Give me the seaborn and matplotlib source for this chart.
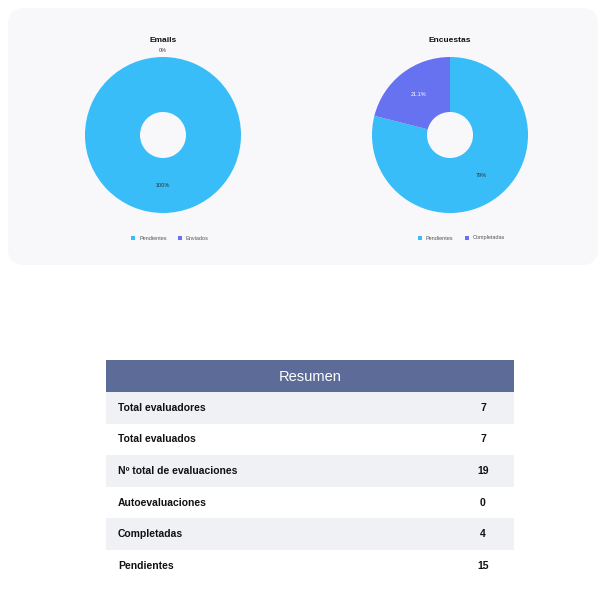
import matplotlib
matplotlib.use("Agg")
import matplotlib.pyplot as plt
import seaborn as sns
from matplotlib.patches import FancyBboxPatch, Rectangle

sns.set_theme(style="white")
plt.rcParams['font.family'] = ['Liberation Sans', 'DejaVu Sans']

email_labels = ["Pendientes", "Enviados"]
email_values = [7, 0]
enc_labels = ["Pendientes", "Completadas"]
enc_values = [15, 4]
colors = ["#38bdf8", "#6772f0"]

table_title = "Resumen"
row_labels = ["Total evaluadores", "Total evaluados", "Nº total de evaluaciones",
              "Autoevaluaciones", "Completadas", "Pendientes"]
row_values = [7, 7, 19, 0, 4, 15]

W, H = 609, 601
fig = plt.figure(figsize=(W/100, H/100), dpi=100)
fig.patch.set_facecolor("white")

def px_axes(x, y, w, h):
    return fig.add_axes([x/W, 1-(y+h)/H, w/W, h/H])

bg = px_axes(0, 0, W, H)
bg.set_xlim(0, W); bg.set_ylim(H, 0); bg.axis("off")
bg.add_patch(FancyBboxPatch((8, 8), 590, 257, boxstyle="round,pad=0,rounding_size=16",
                            fc="#f8f8fb", ec="none"))

def donut(cx, title, labels, values):
    r = 78
    ax = px_axes(cx - r, 135 - r, 2*r, 2*r)
    ax.pie(values, colors=colors, startangle=90, counterclock=False,
           wedgeprops=dict(width=0.705, edgecolor="none"), radius=1)
    ax.set_xlim(-1, 1); ax.set_ylim(-1, 1); ax.set_aspect("equal")
    total = sum(values)
    import numpy as np
    start = 90
    for v in values:
        frac = v/total
        mid = np.deg2rad(start - frac*180)
        pct = frac*100
        txt = f"{pct:.0f}%" if abs(pct - round(pct)) < 1e-9 or pct > 50 else f"{pct:.1f}%"
        if v == 0:
            ax.text(np.cos(mid)*1.05, np.sin(mid)*1.05, "0%", ha="center", va="bottom",
                    fontsize=4, color="#444", clip_on=False)
        else:
            ax.text(np.cos(mid)*0.65, np.sin(mid)*0.65, txt, ha="center", va="center",
                    fontsize=4, color="#333" if pct > 50 else "white")
        start -= frac*360
    bg.text(cx, 41, title, ha="center", va="center", fontsize=6, fontweight="bold", color="#111")
    # legend
    x = cx - 32
    for lab, c in zip(labels, colors):
        bg.add_patch(Rectangle((x, 236), 4, 4, fc=c, ec="none"))
        bg.text(x + 8, 238, lab, ha="left", va="center", fontsize=4, color="#555")
        x += 8 + len(lab)*3.1 + 8

donut(163, "Emails", email_labels, email_values)
donut(450, "Encuestas", enc_labels, enc_values)

# table
tx, tw = 106, 408
bg.add_patch(Rectangle((tx, 360), tw, 32, fc="#5d6b99", ec="none"))
bg.text(tx + tw/2, 377, table_title, ha="center", va="center", fontsize=10.5, color="white")
rh = 31.6
for i, (lab, val) in enumerate(zip(row_labels, row_values)):
    y = 392 + i*rh
    if i % 2 == 0:
        bg.add_patch(Rectangle((tx, y), tw, rh, fc="#f0f1f5", ec="none"))
    bg.text(tx + 12, y + rh/2, lab, ha="left", va="center", fontsize=7.5, fontweight="bold", color="#111")
    bg.text(483, y + rh/2, str(val), ha="center", va="center", fontsize=7.5, fontweight="bold", color="#111")

fig.savefig("out.png", dpi=100)
